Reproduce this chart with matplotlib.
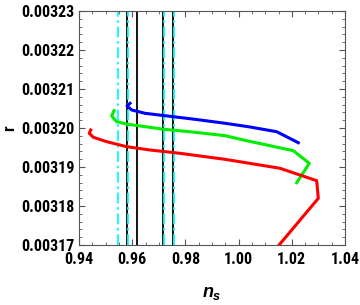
import matplotlib
matplotlib.use("Agg")
import matplotlib.pyplot as plt
from matplotlib.ticker import MultipleLocator, FormatStrFormatter

# curves (n_s, r in units of 1e-5)
blue_ns = [0.95917, 0.95805, 0.95981, 0.96481, 0.97233, 0.98361, 0.99489, 1.00365, 1.01432, 1.02244]
blue_r = [320.633, 320.564, 320.462, 320.377, 320.315, 320.223, 320.121, 320.033, 319.905, 319.623]

green_ns = [0.95316, 0.95229, 0.95417, 0.95853, 0.97109, 0.98361, 0.99489, 1.00305, 1.02056, 1.02658, 1.02184]
green_r = [320.444, 320.308, 320.162, 320.095, 319.974, 319.890, 319.803, 319.674, 319.418, 319.095, 318.597]

red_ns = [0.94440, 0.94387, 0.94538, 0.95041, 0.95793, 0.96669, 0.97797, 0.99489, 1.01556, 1.02936, 1.02996, 1.01400]
red_r = [319.949, 319.864, 319.762, 319.649, 319.521, 319.436, 319.351, 319.197, 318.967, 318.649, 318.197, 316.900]

# observational bounds
black_lines = [0.9579, 0.9617, 0.9715, 0.9752]
cyan_lines = [0.9548, 0.9585, 0.9720, 0.9756]

plt.rcParams['font.family'] = ['Roboto Condensed', 'Archivo Narrow', 'Liberation Sans', 'DejaVu Sans']
plt.rcParams['font.weight'] = 'bold'
plt.rcParams['mathtext.fontset'] = 'custom'
plt.rcParams['mathtext.it'] = 'Liberation Sans:italic:bold'
plt.rcParams['mathtext.rm'] = 'Liberation Sans:bold'

fig = plt.figure(figsize=(3.6, 3.05), dpi=100)
ax = fig.add_axes([79 / 360, 1 - 245 / 305, 266 / 360, 234 / 305])

for x in black_lines:
    ax.axvline(x, color='black', lw=1.3, zorder=2)
for x in cyan_lines:
    ax.axvline(x, color='cyan', lw=1.3, ls=(0, (6, 2, 1.5, 2)), zorder=2)

ax.plot(blue_ns, [v * 1e-5 for v in blue_r], color='blue', lw=2.2, zorder=3)
ax.plot(green_ns, [v * 1e-5 for v in green_r], color='#00ee00', lw=2.2, zorder=3)
ax.plot(red_ns, [v * 1e-5 for v in red_r], color='red', lw=2.2, zorder=3)

ax.set_xlim(0.94, 1.04)
ax.set_ylim(0.00317, 0.00323)
ax.xaxis.set_major_locator(MultipleLocator(0.02))
ax.xaxis.set_minor_locator(MultipleLocator(0.005))
ax.yaxis.set_major_locator(MultipleLocator(0.00001))
ax.yaxis.set_minor_locator(MultipleLocator(0.000002))
ax.xaxis.set_major_formatter(FormatStrFormatter('%.2f'))
ax.yaxis.set_major_formatter(FormatStrFormatter('%.5f'))
ax.tick_params(which='both', direction='in', top=True, right=True, color='#555555',
               labelsize=11.5)
ax.tick_params(axis='y', pad=3)
ax.tick_params(axis='x', pad=5)
ax.tick_params(which='major', length=4, width=0.8)
ax.tick_params(which='minor', length=2, width=0.6)
for lab in ax.get_xticklabels() + ax.get_yticklabels():
    lab.set_fontweight('bold')
for s in ax.spines.values():
    s.set_color('#555555')
    s.set_linewidth(0.8)

ax.set_xlabel(r'$n_s$', fontsize=13, labelpad=12)
ax.set_ylabel('r', fontsize=12, fontweight='bold', rotation=90)
ax.yaxis.set_label_coords(-0.232, 0.5)

fig.savefig('out.png', dpi=100)
